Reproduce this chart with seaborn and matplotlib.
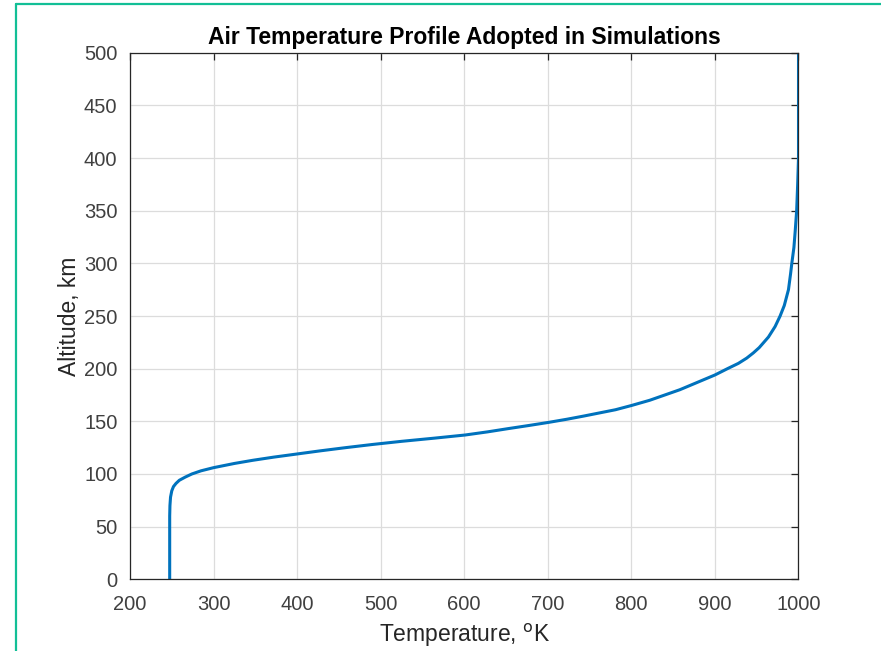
import matplotlib
matplotlib.use("Agg")
import matplotlib.pyplot as plt
import seaborn as sns
import pandas as pd
from matplotlib.lines import Line2D

# Data (altitude km, temperature K)
altitude_km = [0, 60, 70, 78, 84, 88, 91, 94, 97, 100, 103, 106, 110, 113, 116, 119,
               122, 125, 128, 131, 134, 137, 140, 143, 146, 149, 152, 155, 158,
               161, 165, 170, 175, 180, 185, 190, 194, 200, 205, 210, 215, 220,
               230, 240, 250, 260, 275, 290, 300, 315, 330, 350, 375, 400, 450, 500]
temperature_K = [247.5, 247.5, 247.8, 248.5, 250, 252, 255, 259, 266, 274, 285, 300, 325,
                 347, 372, 400, 428, 458, 490, 525, 564, 601, 628, 652, 677, 701,
                 723, 743, 762, 781, 800, 822, 840, 858, 873, 888, 900, 915, 928,
                 938, 946, 953, 964, 972, 978, 983, 988, 990.5, 992, 994.5, 996, 997.8,
                 999, 1000, 1000, 1000]

x_ticks = [200, 300, 400, 500, 600, 700, 800, 900, 1000]
y_ticks = [0, 50, 100, 150, 200, 250, 300, 350, 400, 450, 500]

df = pd.DataFrame({"T": temperature_K, "z": altitude_km})

sns.set_theme(style="white")
plt.rcParams['font.family'] = ['Liberation Sans', 'DejaVu Sans']

fig = plt.figure(figsize=(8.81, 6.51), dpi=100)
ax = fig.add_axes([130 / 881, 1 - 579.3 / 651, (798.5 - 130) / 881, (579.3 - 52.7) / 651])

sns.lineplot(data=df, x="T", y="z", sort=False, estimator=None, ax=ax,
             color="#0072BD", linewidth=2.2)

ax.set_xlim(200, 1000)
ax.set_ylim(0, 500)
ax.set_xticks(x_ticks)
ax.set_yticks(y_ticks)
ax.grid(True, color="#dcdcdc", linewidth=0.9)
ax.set_axisbelow(True)

dark = "#262626"
for s in ax.spines.values():
    s.set_visible(True)
    s.set_color(dark)
    s.set_linewidth(0.9)
ax.tick_params(direction="in", length=5, width=0.9, colors=dark,
               top=True, right=True, labelsize=14.5, labelcolor="#404040")
ax.tick_params(axis="x", pad=11)
ax.tick_params(axis="y", pad=9)

ax.set_title("Air Temperature Profile Adopted in Simulations",
             fontsize=16.5, fontweight="bold", color="black", pad=6)
ax.set_xlabel("Temperature, $^{\\rm o}$K", fontsize=16.5, color="#262626", labelpad=6)
ax.set_ylabel("Altitude, km", fontsize=16.5, color="#262626", labelpad=2)

# teal frame lines (top and left) seen in the reference screenshot
fig.add_artist(Line2D([16 / 881, 1.0], [1 - 4 / 651, 1 - 4 / 651],
                      transform=fig.transFigure, color="#12bf96", linewidth=1.6))
fig.add_artist(Line2D([16 / 881, 16 / 881], [0.0, 1 - 4 / 651],
                      transform=fig.transFigure, color="#12bf96", linewidth=1.6))

fig.savefig("out.png", dpi=100)
